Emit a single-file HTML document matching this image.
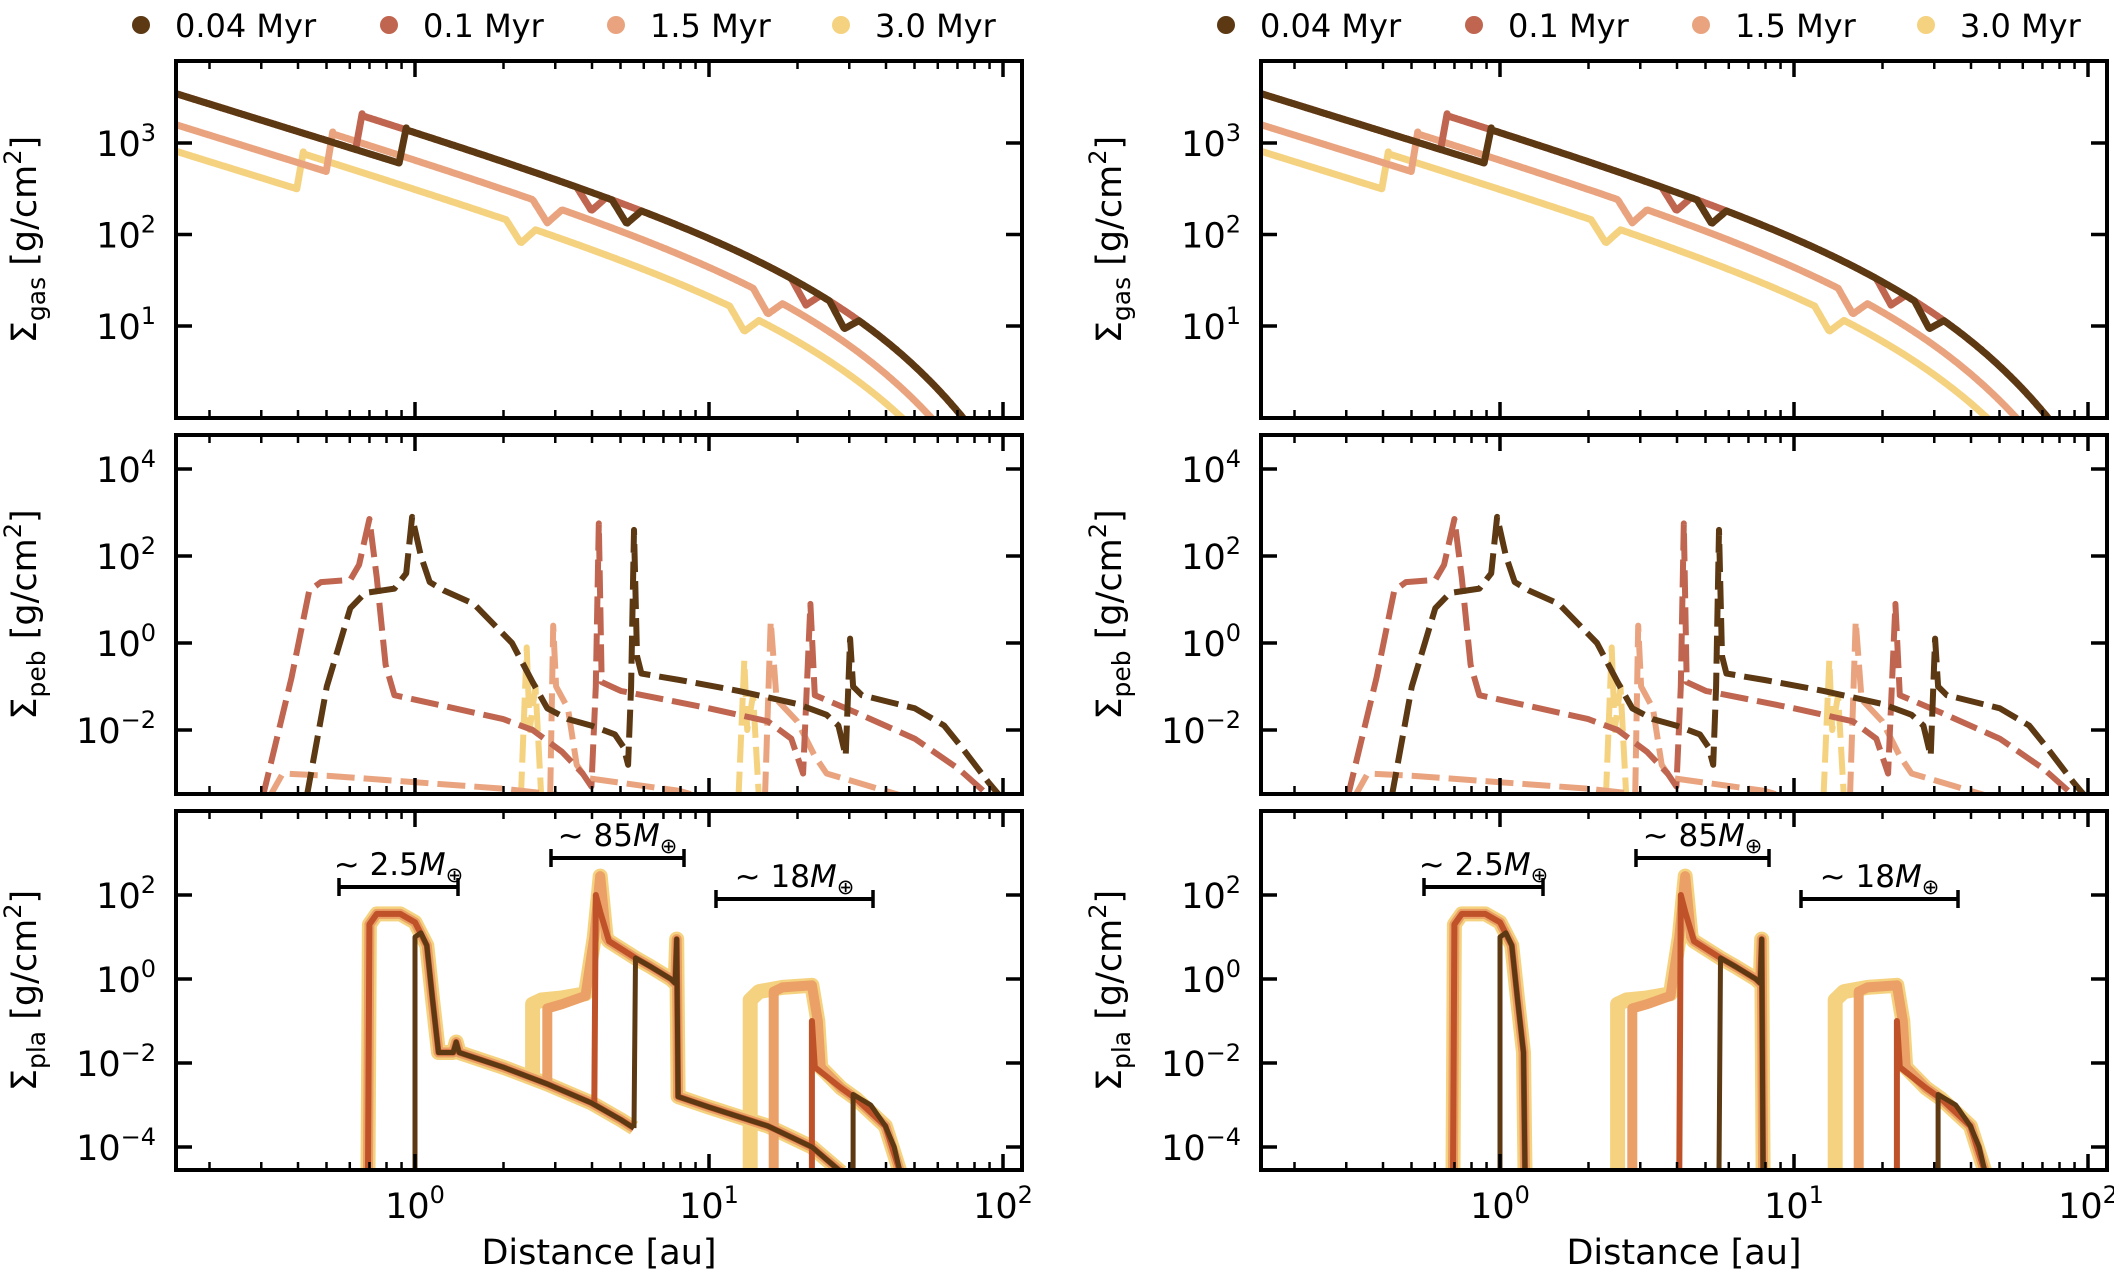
<!DOCTYPE html>
<html><head><meta charset="utf-8"><style>
html,body{margin:0;padding:0;background:#fff;}
svg{display:block;font-family:"DejaVu Sans","Liberation Sans",sans-serif;}
</style></head><body>
<svg id="s" width="2114" height="1280" viewBox="0 0 2114 1280" xmlns="http://www.w3.org/2000/svg"></svg>
<script>
const S=document.getElementById('s');let out='';
const C={d:'#5c3813',r:'#c0654f',l:'#e9a47f',y:'#f5d27f',ro:'#c0522a',lo:'#eaa066'};
const W=846;
const panels=[{y0:61,y1:418,Y:v=>417.5-v*91.5,ticks:[1,2,3],name:'gas'},
{y0:435,y1:794,Y:v=>643-v*43.5,ticks:[-2,0,2,4],name:'peb'},
{y0:811,y1:1170,Y:v=>979-v*42,ticks:[-4,-2,0,2],name:'pla'}];
function gas(A,rc,jump,inner,dips){const pts=[];for(let u=-0.85;u<=2.1;u+=0.004){let r=Math.pow(10,u),v;
if(u<jump)v=inner-(u+0.813);else v=A-u-r/(rc*2.3026);
for(const [p,d] of dips){const t=(u-p)/0.05;if(Math.abs(t)<1)v-=d*(1-Math.abs(t));}
pts.push([u,v]);
if(u<jump&&u+0.004>=jump){pts.push([jump+0.02,A-jump-Math.pow(10,jump)/(rc*2.3026)]);u+=0.02;}}
return pts;}
function path(X,Y,pts){return pts.map((p,i)=>(i?'L':'M')+X(p[0]).toFixed(1)+','+Y(p[1]).toFixed(1)).join('');}
function sup(t){return `<tspan dy="-15" font-size="24">${t}</tspan>`;}
function L(x1,y1,x2,y2,w){return `<line x1="${x1}" y1="${y1}" x2="${x2}" y2="${y2}" stroke="#000" stroke-width="${w}"/>`;}
const low=[[0.15,-1.75],[0.3,-2.1],[0.45,-2.5],[0.6,-2.95],[0.7,-3.35],[0.745,-3.55]];
const low2=[[0.895,-2.8],[1.0,-3.05],[1.2,-3.5],[1.35,-4.0],[1.45,-4.6]];
const leftB=[[-0.16,-4.6],[-0.155,1.3],[-0.13,1.55],[-0.05,1.55],[0.0,1.35],[0.04,0.8],[0.06,-0.5],[0.08,-1.75]];
function plaSeries(full){
 const mid=[[0.66,0.9],[0.75,0.5],[0.8,0.3],[0.87,0.0],[0.885,-0.1],[0.89,0.95]];
 const S={};
 S.y=[ full?leftB.concat([[0.13,-1.75],[0.14,-1.5]],low):leftB.concat([[0.085,-4.6]]),
  full?[[0.4,-2.35],[0.4,-0.6],[0.43,-0.5],[0.5,-0.45],[0.58,-0.35],[0.61,1.0],[0.63,2.45],[0.65,1.0]].concat(mid,low2):[[0.4,-4.6],[0.4,-0.6],[0.43,-0.5],[0.5,-0.45],[0.58,-0.35],[0.61,1.0],[0.63,2.45],[0.65,1.0]].concat(mid,[[0.895,-4.6]]),
  [[1.14,-4.6],[1.14,-0.5],[1.17,-0.3],[1.25,-0.2],[1.35,-0.15],[1.37,-1.0],[1.38,-2.1],[1.45,-2.6],[1.5,-2.85],[1.6,-3.5],[1.65,-4.6]]];
 S.l=[ S.y[0],
  full?[[0.45,-2.55],[0.45,-0.7],[0.5,-0.6],[0.58,-0.4],[0.61,1.0],[0.63,2.45],[0.65,1.0]].concat(mid,low2):[[0.45,-4.6],[0.45,-0.7],[0.5,-0.6],[0.58,-0.4],[0.61,1.0],[0.63,2.45],[0.65,1.0]].concat(mid,[[0.895,-4.6]]),
  [[1.22,-4.6],[1.22,-0.3],[1.25,-0.2],[1.35,-0.15],[1.37,-1.0],[1.38,-2.1],[1.45,-2.6],[1.5,-2.85],[1.6,-3.5],[1.65,-4.6]]];
 S.r=[ S.y[0],
  full?[[0.61,-3.0],[0.615,2.0],[0.63,1.6],[0.66,0.9]].concat(mid.slice(1),low2):[[0.61,-4.6],[0.615,2.0],[0.63,1.6],[0.66,0.9]].concat(mid.slice(1),[[0.895,-4.6]]),
  [[1.35,-4.6],[1.35,-1.0],[1.36,-2.1],[1.45,-2.6],[1.5,-2.85],[1.6,-3.5],[1.65,-4.6]]];
 S.d=[ full?[[0.0,-4.6],[0.0,1.0],[0.02,1.1],[0.04,0.8],[0.06,-0.5],[0.08,-1.75],[0.13,-1.75],[0.14,-1.5]].concat(low):[[0.0,-4.6],[0.0,1.0],[0.02,1.1],[0.04,0.8],[0.06,-0.5],[0.08,-1.75],[0.085,-4.6]],
  (full?[[0.745,-3.55]]:[[0.745,-4.6]]).concat([[0.75,0.5],[0.8,0.3],[0.87,0.0],[0.885,-0.1],[0.89,0.95]],full?low2:[[0.895,-4.6]]),
  [[1.49,-4.6],[1.49,-2.75],[1.55,-3.0],[1.6,-3.5],[1.63,-4.0],[1.65,-4.6]]];
 return S;}
const peb={
y:[[[0.36,-3.6],[0.38,-0.1],[0.39,-2.0],[0.41,-1.0],[0.43,-3.6]],[[1.1,-3.6],[1.12,-0.4],[1.13,-2.0],[1.15,-1.2],[1.17,-3.6]]],
l:[[[-0.5,-3.6],[-0.45,-3.0],[-0.3,-3.05],[0.0,-3.2],[0.3,-3.35],[0.5,-3.5]],[[0.46,-3.5],[0.47,0.4],[0.48,-1.0],[0.52,-1.5],[0.55,-2.8],[0.58,-3.1],[0.9,-3.4],[1.0,-3.6]],[[1.19,-3.6],[1.21,0.5],[1.23,-1.3],[1.3,-1.8],[1.36,-2.6],[1.4,-3.0],[1.55,-3.3],[1.7,-3.6]]],
r:[[[-0.52,-3.6],[-0.42,-0.8],[-0.36,1.2],[-0.32,1.4],[-0.22,1.45],[-0.19,1.8],[-0.155,2.85],[-0.13,1.5],[-0.1,-0.5],[-0.07,-1.2],[0.1,-1.45],[0.3,-1.75],[0.4,-2.0],[0.5,-2.5],[0.57,-3.0],[0.6,-3.3],[0.615,-1.0],[0.625,2.75],[0.635,-0.9],[0.7,-1.1],[1.0,-1.5],[1.2,-1.8],[1.28,-2.2],[1.32,-3.0],[1.345,0.9],[1.36,-1.2],[1.5,-1.6],[1.7,-2.2],[1.85,-2.9],[1.95,-3.5]]],
d:[[[-0.37,-3.6],[-0.3,-1.0],[-0.22,0.8],[-0.17,1.15],[-0.07,1.25],[-0.03,1.6],[-0.01,2.9],[0.02,2.0],[0.05,1.4],[0.1,1.2],[0.2,0.9],[0.33,0.0],[0.4,-0.9],[0.45,-1.5],[0.52,-1.75],[0.6,-1.9],[0.68,-2.1],[0.71,-2.4],[0.725,-2.8],[0.735,-1.0],[0.745,2.6],[0.755,-0.3],[0.77,-0.7],[0.9,-0.85],[1.1,-1.1],[1.3,-1.4],[1.4,-1.65],[1.44,-1.9],[1.465,-2.6],[1.48,0.1],[1.49,-1.0],[1.52,-1.2],[1.7,-1.5],[1.8,-1.9],[1.86,-2.4],[1.95,-3.2],[2.0,-3.6]]]};
function panelSet(x0,full,idx){
 const X=u=>x0+239+u*294;
 const lx=[141,389,616,841].map(v=>v+(x0-176));
 const lab=['0.04 Myr','0.1 Myr','1.5 Myr','3.0 Myr'],lc=[C.d,C.r,C.l,C.y];
 for(let i=0;i<4;i++){out+=`<circle cx="${lx[i]}" cy="25" r="9" fill="${lc[i]}"/><text x="${lx[i]+34}" y="37" font-size="32">${lab[i]}</text>`;}
 panels.forEach((P,pi)=>{
  const id='c'+idx+pi;
  out+=`<clipPath id="${id}"><rect x="${x0}" y="${P.y0}" width="${W}" height="${P.y1-P.y0}"/></clipPath><g clip-path="url(#${id})" fill="none" stroke-linejoin="round">`;
  if(pi==0){
   const sets=[[C.y,2.51,23,-0.4,2.91,[[0.36,0.2],[1.12,0.2]]],[C.l,2.83,23,-0.3,3.2,[[0.45,0.2],[1.2,0.2]]],[C.r,3.13,25,-0.2,3.54,[[0.6,0.2],[1.33,0.2]]],[C.d,3.13,25,-0.05,3.54,[[0.72,0.2],[1.46,0.2]]]];
   for(const s of sets) out+=`<path d="${path(X,P.Y,gas(s[1],s[2],s[3],s[4],s[5]))}" stroke="${s[0]}" stroke-width="7"/>`;
  } else if(pi==1){
   for(const k of ['y','l','r','d']) for(const p of peb[k]) out+=`<path d="${path(X,P.Y,p)}" stroke="${C[k]}" stroke-width="6" stroke-dasharray="28,9"/>`;
  } else {
   const S2=plaSeries(full);
   const st={y:[C.y,15],l:[C.lo,10],r:[C.ro,6],d:[C.d,5]};
   for(const k of ['y','l','r','d']) for(const p of S2[k]) out+=`<path d="${path(X,P.Y,p)}" stroke="${st[k][0]}" stroke-width="${st[k][1]}"/>`;
  }
  out+='</g>';
  out+=`<rect x="${x0}" y="${P.y0}" width="${W}" height="${P.y1-P.y0}" fill="none" stroke="#000" stroke-width="4"/>`;
  for(let e=-1;e<=2;e++)for(let k=1;k<10;k++){const u=e+Math.log10(k);const x=X(u);if(x<x0+2||x>x0+W-2)continue;
   const len=k==1?16:8,w=k==1?3.5:2.5;out+=L(x,P.y0,x,P.y0+len,w)+L(x,P.y1,x,P.y1-len,w);}
  for(const t of P.ticks){const y=P.Y(t);out+=L(x0,y,x0+16,y,3.5)+L(x0+W,y,x0+W-16,y,3.5);
   const lbl=t<0?'\u2212'+(-t):''+t;
   out+=`<text x="${x0-20}" y="${y+13}" font-size="35" text-anchor="end">10${sup(lbl)}</text>`;}
  const cy=(P.y0+P.y1)/2;
  out+=`<text transform="translate(${x0-140},${cy}) rotate(-90)" font-size="35" text-anchor="middle">\u03A3<tspan dy="9" font-size="25">${P.name}</tspan><tspan dy="-9"> [g/cm</tspan>${sup('2')}<tspan dy="15">]</tspan></text>`;
 });
 for(const e of [0,1,2]){out+=`<text x="${X(e)}" y="1218" font-size="35" text-anchor="middle">10${sup(e)}</text>`;}
 out+=`<text x="${x0+W/2}" y="1264" font-size="35" text-anchor="middle">Distance [au]</text>`;
 const bars=[[339,458,887,'2.5'],[551,684,858,'85'],[716,873,899,'18']];
 for(const b of bars){const a=b[0]+(x0-176),c=b[1]+(x0-176);
  out+=L(a,b[2],c,b[2],4)+L(a,b[2]-9,a,b[2]+9,3.5)+L(c,b[2]-9,c,b[2]+9,3.5);
  out+=`<text x="${(a+c)/2}" y="${b[2]-12}" font-size="31" text-anchor="middle">~ ${b[3]}<tspan font-style="italic">M</tspan><tspan dy="7" font-size="21">\u2295</tspan></text>`;}
}
panelSet(176,true,0);
panelSet(1261,false,1);
S.innerHTML=out;
</script>
</body></html>
